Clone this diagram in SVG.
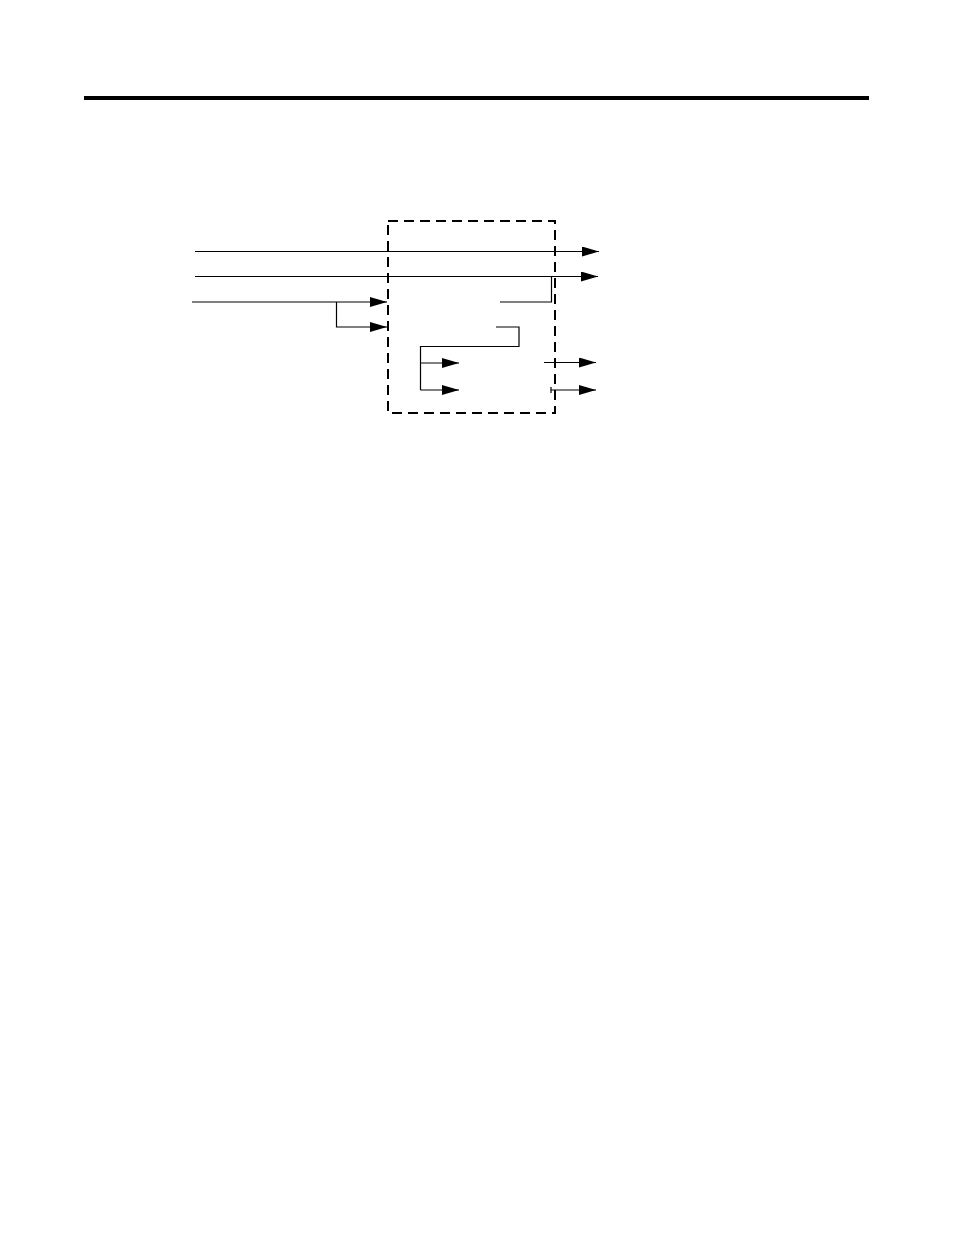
<svg xmlns="http://www.w3.org/2000/svg" width="954" height="1235" viewBox="0 0 954 1235">
<style>
.w{fill:none;stroke:#000;stroke-width:1.2}
.box{fill:none;stroke:#000;stroke-width:2;stroke-dasharray:10,6}
</style>
<defs>
<marker id="ah" viewBox="0 0 17 10" refX="17" refY="5" markerWidth="17" markerHeight="10" markerUnits="userSpaceOnUse" orient="auto">
<path d="M0,0 L17,5 L0,10 Z" fill="#000"/>
</marker>
</defs>
<rect x="0" y="0" width="954" height="1235" fill="#fff"/>
<rect id="rule" x="84" y="96" width="785" height="4" fill="#000"/>
<g id="block">
<rect class="box" x="388" y="221" width="167" height="192"/>
</g>
<g id="connectors">
<path class="w" d="M195,251.5 H599" marker-end="url(#ah)"/>
<path class="w" d="M195,276.5 H598" marker-end="url(#ah)"/>
<path class="w" d="M551.5,276.5 V302 H500"/>
<path class="w" d="M192,302 H387" marker-end="url(#ah)"/>
<path class="w" d="M336.5,302 V327 H387" marker-end="url(#ah)"/>
<path class="w" d="M496,327 H519 V346.5 H420.5 V390"/>
<path class="w" d="M420.5,363 H459" marker-end="url(#ah)"/>
<path class="w" d="M420.5,390 H459" marker-end="url(#ah)"/>
<path class="w" d="M544,362.5 H596" marker-end="url(#ah)"/>
<path class="w" d="M551,390 H596" marker-end="url(#ah)"/>
<path class="w" d="M551,387 V393"/>
</g>
</svg>
